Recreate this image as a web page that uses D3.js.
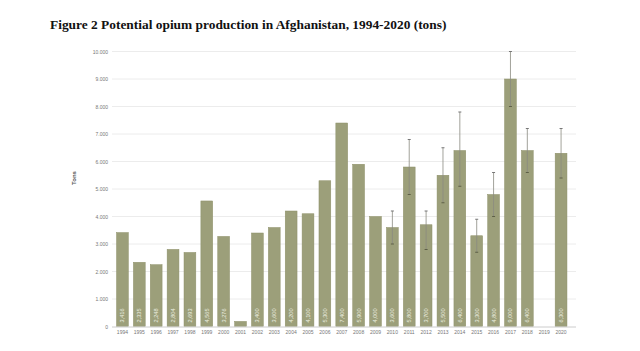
<!DOCTYPE html>
<html>
<head>
<meta charset="utf-8">
<title>Opium production</title>
<style>
  body { margin: 0; background: #fff; }
  svg { display: block; }
</style>
</head>
<body>
<script src="https://d3js.org/d3.v7.min.js"></script>
<script>
// data
const years = ["1994","1995","1996","1997","1998","1999","2000","2001","2002","2003","2004","2005","2006",
  "2007","2008","2009","2010","2011","2012","2013","2014","2015","2016","2017","2018","2019","2020"];
const tons = [3416, 2335, 2248, 2804, 2693, 4565, 3276, 185, 3400, 3600, 4200, 4100, 5300,
  7400, 5900, 4000, 3600, 5800, 3700, 5500, 6400, 3300, 4800, 9000, 6400, null, 6300];
// uncertainty ranges (lower, upper), only from 2010 on
const rangeYears = ["2010","2011","2012","2013","2014","2015","2016","2017","2018","2020"];
const rangeLow  = [3000, 4800, 2800, 4500, 5100, 2700, 4000, 8000, 5600, 5400];
const rangeHigh = [4200, 6800, 4200, 6500, 7800, 3900, 5600, 10000, 7200, 7200];
const yTicks = [0,1000,2000,3000,4000,5000,6000,7000,8000,9000,10000];

const W = 640, H = 351;
const svg = d3.select("body").append("svg").attr("width", W).attr("height", H);

svg.append("text")
  .attr("x", 50).attr("y", 29)
  .style("font-family", "'Liberation Serif', 'Times New Roman', serif")
  .style("font-weight", "bold")
  .style("font-size", "13.4px")
  .attr("fill", "#111")
  .text("Figure 2 Potential opium production in Afghanistan, 1994-2020 (tons)");

const x = d3.scaleBand().domain(years).range([114, 569.5]).paddingInner(0.3).paddingOuter(0.15);
const y = d3.scaleLinear().domain([0, 10000]).range([326.5, 51.5]);

const fmtTick = v => d3.format(",")(v).replace(/,/g, ".");

// gridlines
svg.append("g")
  .selectAll("line").data(yTicks.slice(1)).join("line")
  .attr("x1", 112).attr("x2", 576)
  .attr("y1", d => y(d)).attr("y2", d => y(d))
  .attr("stroke", "#ececec").attr("stroke-width", 1);

// y axis
const yAxis = svg.append("g")
  .attr("transform", "translate(112,0)")
  .call(d3.axisLeft(y).tickValues(yTicks).tickFormat(fmtTick).tickSize(0).tickPadding(4));
yAxis.select(".domain").remove();
yAxis.selectAll("text").style("font-family", "Arial, 'Liberation Sans', sans-serif")
  .style("font-size", "5px").attr("fill", "#777");

svg.append("text")
  .attr("transform", "translate(76,178) rotate(-90)")
  .attr("text-anchor", "middle")
  .style("font-family", "Arial, 'Liberation Sans', sans-serif")
  .style("font-size", "6px").style("font-weight", "bold")
  .attr("fill", "#555")
  .text("Tons");

// bars
const rows = years.map((yr, i) => ({ yr, v: tons[i] })).filter(d => d.v != null);
svg.append("g")
  .selectAll("rect").data(rows).join("rect")
  .attr("x", d => x(d.yr)).attr("width", x.bandwidth())
  .attr("y", d => y(d.v)).attr("height", d => y(0) - y(d.v))
  .attr("fill", "#9c9f7a")
  .attr("stroke", "#8d9069").attr("stroke-width", 0.5);

// x axis
const xAxis = svg.append("g")
  .attr("transform", `translate(0,${y(0)})`)
  .call(d3.axisBottom(x).tickSize(0).tickPadding(4));
xAxis.select(".domain").attr("stroke", "#ccc").attr("d", `M112,0.5H576`);
xAxis.selectAll("text").style("font-family", "Arial, 'Liberation Sans', sans-serif")
  .style("font-size", "5px").attr("fill", "#777");

// value labels inside bars
svg.append("g")
  .selectAll("text").data(rows.filter(d => d.v > 1000)).join("text")
  .attr("transform", d => `translate(${x(d.yr) + x.bandwidth() / 2 + 2},${y(0) - 4}) rotate(-90)`)
  .style("font-family", "Arial, 'Liberation Sans', sans-serif")
  .style("font-size", "5.6px")
  .attr("fill", "#eef0e2")
  .text(d => d3.format(",")(d.v));

// error bars
const ranges = rangeYears.map((yr, i) => ({ yr, lo: rangeLow[i], hi: rangeHigh[i] }));
const eb = svg.append("g").selectAll("g").data(ranges).join("g")
  .attr("transform", d => `translate(${x(d.yr) + x.bandwidth() / 2},0)`);
eb.append("line")
  .attr("y1", d => y(d.lo)).attr("y2", d => y(d.hi))
  .attr("stroke", "#8a8a80").attr("stroke-width", 0.8);
eb.append("line")
  .attr("x1", -1.5).attr("x2", 1.5)
  .attr("y1", d => y(d.hi)).attr("y2", d => y(d.hi))
  .attr("stroke", "#777").attr("stroke-width", 1);
eb.append("line")
  .attr("x1", -1.5).attr("x2", 1.5)
  .attr("y1", d => y(d.lo)).attr("y2", d => y(d.lo))
  .attr("stroke", "#5e6046").attr("stroke-width", 1);
</script>
</body>
</html>
